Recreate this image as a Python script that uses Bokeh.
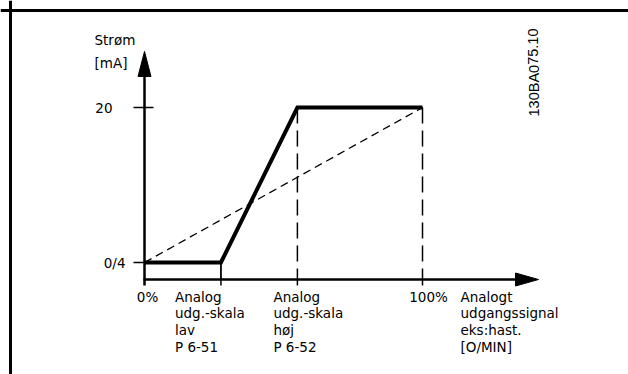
from bokeh.plotting import figure
from bokeh.models import Range1d, Span, ColumnDataSource
from bokeh.core.properties import value
from bokeh.embed import file_html
from bokeh.resources import INLINE

# ---- data ----
x_points = [0, 27.5, 55, 100]          # 0%, skala lav, skala høj, 100%
output_x = [0, 27.5, 55, 100]
output_y = [4, 4, 20, 20]              # mA
reference_x = [0, 100]
reference_y = [4, 20]
y_ticks = [4, 20]
y_tick_labels = ["0/4", "20"]
x_labels = ["0%",
            "Analog\nudg.-skala\nlav\nP 6-51",
            "Analog\nudg.-skala\nhøj\nP 6-52",
            "100%",
            "Analogt\nudgangssignal\neks:hast.\n[O/MIN]"]
y_title = ["Strøm", "[mA]"]
doc_id = "130BA075.10"

# ---- layout ----
W, H = 628, 374
PXX, PXY = 2.78, 9.6875            # pixels per data unit
OX, OY = 144, 262                  # canvas pixel of (0%, 4 mA)
Y0 = 4


def dx(px):
    return px / PXX


def dy(px):
    return px / PXY


x_range = Range1d(-OX / PXX, (W - OX) / PXX)
y_range = Range1d(Y0 - (H - OY) / PXY, Y0 + OY / PXY)
AXIS_Y = Y0 - dy(17)

p = figure(width=W, height=H, x_range=x_range, y_range=y_range,
           output_backend="svg", toolbar_location=None, min_border=0)
p.axis.visible = False
p.grid.visible = False
p.outline_line_color = None
p.background_fill_color = "white"
p.border_fill_color = "white"

# frame (left + top)
p.add_layout(Span(location=x_range.start + dx(10), dimension="height",
                  line_color="black", line_width=3))
p.add_layout(Span(location=y_range.end - dy(10), dimension="width",
                  line_color="black", line_width=3))

# y axis
y_tip = Y0 + dy(211)
y_base = Y0 + dy(186)
p.line([0, 0], [AXIS_Y - dy(6), y_base], line_color="black", line_width=2.5)
p.patch([0, dx(-6.5), dx(6.5)], [y_tip, y_base, y_base], color="black")

# x axis
x_tip = dx(394)
x_base = dx(371)
p.line([dx(-1), x_base], [AXIS_Y, AXIS_Y], line_color="black", line_width=2.5)
p.patch([x_tip, x_base, x_base], [AXIS_Y, AXIS_Y + dy(6.5), AXIS_Y - dy(6.5)],
        color="black")

# y ticks
p.segment(x0=[dx(-11), dx(-11)], y0=y_ticks, x1=[0, dx(9)], y1=y_ticks,
          line_color="black", line_width=1.5)
# x ticks below axis
p.segment(x0=x_points[1:], y0=[AXIS_Y] * 3, x1=x_points[1:],
          y1=[AXIS_Y - dy(6)] * 3, line_color="black", line_width=1.5)

# guide verticals
p.segment(x0=[output_x[1]], y0=[output_y[1]], x1=[output_x[1]], y1=[AXIS_Y],
          line_color="black", line_width=1.8)
p.segment(x0=output_x[2:], y0=output_y[2:], x1=output_x[2:],
          y1=[AXIS_Y] * 2, line_color="black", line_width=1.5,
          line_dash="16 7")

# reference dashed line
p.line(reference_x, reference_y, line_color="black", line_width=1.3,
       line_dash="8 5")
# output line
p.line(output_x, output_y, line_color="black", line_width=4,
       line_join="miter")

FONT = value("DejaVu Sans")
FS = "13.5px"

# y tick labels
p.text(x=[0, 0], y=y_ticks, text=y_tick_labels, x_offset=[-19, -32],
       text_align="right", text_baseline="middle", text_font=FONT,
       text_font_size=FS, text_color="black")

# y title
p.text(x=[0, 0], y=[y_tip, y_tip], text=y_title, x_offset=[-50, -50],
       y_offset=[-12, 11], text_align="left", text_baseline="middle",
       text_font=FONT, text_font_size=FS, text_color="black")

# x labels (split into lines)
anchor_x = [x_points[0], x_points[1], x_points[2], x_points[3], x_points[3]]
offsets = [3, -46, -24, 6, 38]
aligns = ["center", "left", "left", "center", "left"]
lx, ly, lt, lxo, lyo, la = [], [], [], [], [], []
for ax, off, al, lab in zip(anchor_x, offsets, aligns, x_labels):
    for i, line in enumerate(lab.split("\n")):
        lx.append(ax)
        ly.append(AXIS_Y)
        lt.append(line)
        lxo.append(off)
        lyo.append(17 + i * 16.8)
        la.append(al)
src = ColumnDataSource(dict(x=lx, y=ly, text=lt, xo=lxo, yo=lyo, align=la))
p.text(x="x", y="y", text="text", x_offset="xo", y_offset="yo",
       text_align="align", text_baseline="middle", text_font=FONT,
       text_font_size=FS, text_color="black", source=src)

# document id (rotated)
p.text(x=[x_tip], y=[Y0 + dy(190)], text=[doc_id], x_offset=[-5],
       angle=1.5708, text_align="center", text_baseline="middle",
       text_font=value("Liberation Sans"), text_font_size="14.5px",
       text_color="black")

open("out.html", "w").write(file_html(p, INLINE))
